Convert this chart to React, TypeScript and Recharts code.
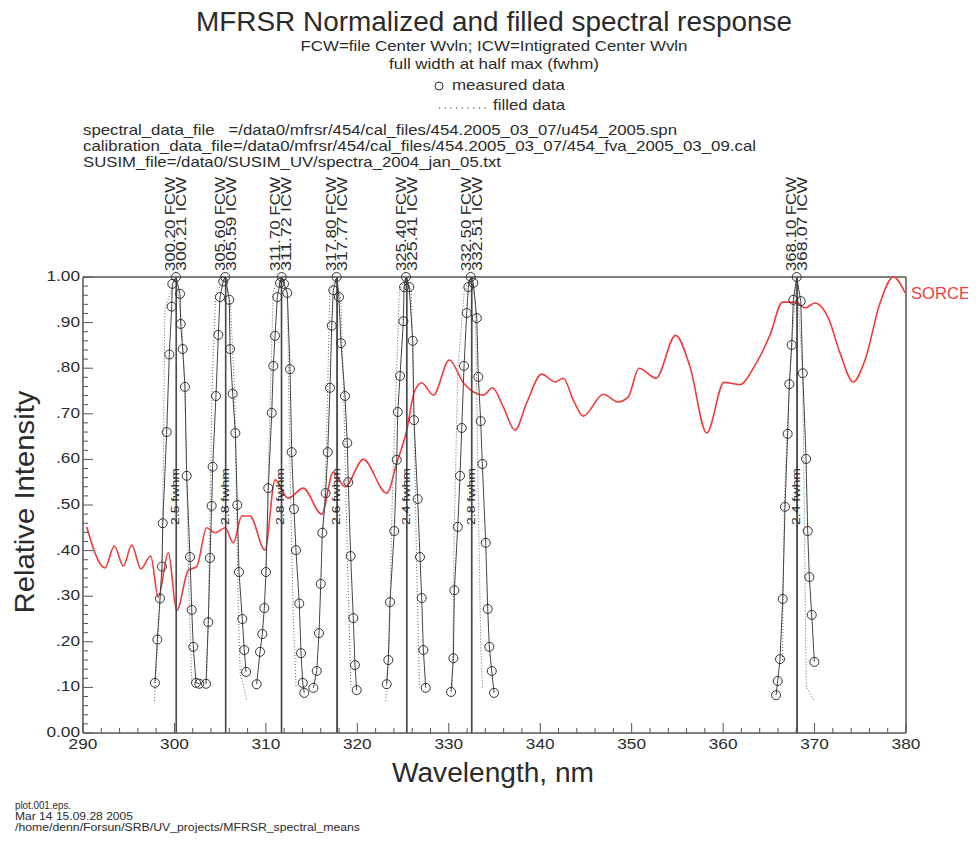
import React from "react";
import { ComposedChart, Line, XAxis, YAxis, ReferenceLine, Scatter } from "recharts";

// channel centres and widths
const channelFcw = [300.2, 305.6, 311.7, 317.8, 325.4, 332.5, 368.1];
const channelIcw = [300.21, 305.59, 311.72, 317.77, 325.41, 332.51, 368.07];
const channelFwhm = [2.5, 2.8, 2.8, 2.6, 2.4, 2.8, 2.4];

// measured data (circles), [wavelength nm, relative intensity]
const measured300: [number, number][] = [
  [297.87, 0.11], [298.13, 0.205], [298.42, 0.295], [298.64, 0.365], [298.72, 0.46], [299.15, 0.66],
  [299.44, 0.83], [299.7, 0.935], [299.77, 0.985], [300.17, 1.0], [300.61, 0.963], [300.68, 0.897],
  [300.9, 0.842], [301.15, 0.759], [301.34, 0.564], [301.7, 0.386], [301.89, 0.27], [302.06, 0.189],
  [302.36, 0.11], [302.72, 0.108],
];
const measured305: [number, number][] = [
  [303.45, 0.108], [303.7, 0.243], [303.89, 0.384], [304.07, 0.498], [304.18, 0.584], [304.54, 0.739],
  [304.8, 0.873], [304.98, 0.956], [305.34, 0.99], [305.55, 1.0], [306.0, 0.95], [306.08, 0.842],
  [306.37, 0.744], [306.66, 0.658], [306.87, 0.5], [307.06, 0.353], [307.42, 0.25], [307.64, 0.182],
  [307.83, 0.134],
];
const measured311: [number, number][] = [
  [308.99, 0.107], [309.36, 0.178], [309.61, 0.217], [309.83, 0.274], [310.01, 0.353], [310.26, 0.537],
  [310.64, 0.702], [310.81, 0.805], [311.0, 0.871], [311.25, 0.956], [311.54, 0.987], [311.73, 1.0],
  [311.98, 0.985], [312.34, 0.965], [312.64, 0.798], [312.82, 0.616], [313.07, 0.491], [313.29, 0.401],
  [313.65, 0.284], [313.84, 0.175], [314.03, 0.11], [314.2, 0.088],
];
const measured317: [number, number][] = [
  [315.19, 0.099], [315.56, 0.136], [315.81, 0.219], [316.0, 0.327], [316.17, 0.439], [316.54, 0.526],
  [316.76, 0.616], [317.01, 0.757], [317.2, 0.893], [317.37, 0.971], [317.74, 1.0], [317.99, 0.956],
  [318.21, 0.855], [318.65, 0.739], [318.9, 0.636], [319.01, 0.55], [319.27, 0.388], [319.56, 0.252],
  [319.74, 0.149], [319.93, 0.094],
];
const measured325: [number, number][] = [
  [323.21, 0.107], [323.39, 0.16], [323.57, 0.287], [324.04, 0.443], [324.31, 0.599], [324.42, 0.704],
  [324.67, 0.783], [325.03, 0.903], [325.11, 0.978], [325.32, 1.0], [325.68, 0.978], [326.06, 0.86],
  [326.2, 0.686], [326.6, 0.513], [326.85, 0.386], [327.04, 0.296], [327.22, 0.182], [327.48, 0.099],
];
const measured332: [number, number][] = [
  [330.25, 0.09], [330.5, 0.164], [330.61, 0.313], [330.98, 0.452], [331.23, 0.564], [331.42, 0.669],
  [331.67, 0.805], [331.96, 0.921], [332.14, 0.978], [332.4, 1.0], [332.68, 0.987], [333.06, 0.91],
  [333.23, 0.781], [333.49, 0.684], [333.67, 0.59], [334.04, 0.417], [334.26, 0.272], [334.43, 0.189],
  [334.7, 0.136], [334.95, 0.088],
];
const measured368: [number, number][] = [
  [365.79, 0.083], [365.97, 0.114], [366.22, 0.162], [366.52, 0.294], [366.77, 0.496], [367.06, 0.656],
  [367.24, 0.765], [367.5, 0.851], [367.68, 0.95], [368.05, 1.0], [368.49, 0.947], [368.71, 0.789],
  [369.07, 0.601], [369.25, 0.443], [369.43, 0.342], [369.69, 0.259], [369.98, 0.156],
];

// filled data (dotted)
const filled300: [number, number][] = [
  [297.8, 0.07], [298.64, 0.36], [298.72, 0.46], [298.95, 0.93], [300.17, 1.0], [300.8, 0.9],
  [301.15, 0.76], [301.6, 0.3], [301.9, 0.11],
];
const filled305: [number, number][] = [
  [303.5, 0.11], [303.7, 0.24], [304.1, 0.75], [304.5, 0.96], [305.5, 1.0], [306.1, 0.95],
  [306.6, 0.74], [307.0, 0.25], [307.2, 0.13], [307.95, 0.07],
];
const filled311: [number, number][] = [
  [310.0, 0.35], [310.3, 0.6], [310.8, 0.97], [311.73, 1.0], [312.35, 0.96], [312.6, 0.62],
  [313.0, 0.25], [313.3, 0.1],
];
const filled317: [number, number][] = [
  [316.3, 0.45], [316.6, 0.62], [317.0, 0.97], [317.74, 1.0], [318.2, 0.95], [318.5, 0.75],
  [318.9, 0.4], [319.3, 0.1],
];
const filled325: [number, number][] = [
  [323.1, 0.07], [323.5, 0.2], [323.8, 0.5], [324.6, 0.97], [325.32, 1.0], [325.9, 0.97],
  [326.2, 0.69], [326.5, 0.35], [326.8, 0.1],
];
const filled332: [number, number][] = [
  [330.4, 0.1], [330.6, 0.45], [331.0, 0.8], [331.7, 0.97], [332.4, 1.0], [332.9, 0.95],
  [333.2, 0.55], [333.5, 0.19], [333.7, 0.1],
];
const filled368: [number, number][] = [
  [366.5, 0.16], [366.55, 0.29], [366.7, 0.5], [367.0, 0.66], [367.5, 0.85], [368.05, 1.0],
  [368.7, 0.79], [368.9, 0.45], [369.0, 0.25], [369.1, 0.1], [370.0, 0.07],
];

// SORCE solar spectrum (red)
const sorceWl = [
  290.4, 292.41, 293.42, 294.41, 295.33, 296.34, 297.4, 298.23, 299.33, 300.25, 301.52, 302.43,
  303.53, 304.44, 305.53, 306.44, 307.36, 308.26, 309.9, 311.0, 312.45, 314.09, 316.1, 317.37,
  318.65, 320.65, 323.21, 324.31, 325.4, 326.2, 327.04, 328.31, 330.06, 331.59, 333.78, 334.78,
  335.96, 337.24, 338.52, 340.16, 341.62, 342.53, 343.62, 344.71, 346.9, 348.51, 349.63, 350.8,
  352.66, 354.8, 356.38, 358.21, 360.1, 361.85, 363.3, 365.13, 366.5, 367.97, 368.96, 370.05,
  371.51, 372.79, 374.24, 375.52, 377.16, 378.62, 379.9,
];
const sorceVal = [
  0.452, 0.362, 0.41, 0.366, 0.412, 0.36, 0.388, 0.298, 0.395, 0.268, 0.357, 0.365,
  0.45, 0.439, 0.45, 0.417, 0.476, 0.476, 0.401, 0.555, 0.515, 0.537, 0.48, 0.572,
  0.54, 0.6, 0.526, 0.592, 0.664, 0.746, 0.768, 0.741, 0.818, 0.768, 0.741, 0.757,
  0.715, 0.664, 0.724, 0.787, 0.77, 0.778, 0.73, 0.695, 0.743, 0.726, 0.737, 0.8,
  0.778, 0.872, 0.803, 0.658, 0.769, 0.764, 0.8, 0.873, 0.945, 0.945, 0.932, 0.943,
  0.91, 0.833, 0.77, 0.818, 0.943, 1.0, 0.965,
];

const xTicks = Array.from({ length: 46 }, (_, i) => 290 + 2 * i);
const yTicks = Array.from({ length: 51 }, (_, i) => i / 50);
const yTickLabels = ["0.00", ".10", ".20", ".30", ".40", ".50", ".60", ".70", ".80", ".90", "1.00"];

const FONT = "'Liberation Sans', Arial, Helvetica, sans-serif";
const INK = "#2b2b2b";
const GRAY = "#555";

const toPts = (a: [number, number][]) => a.map(([wl, v]) => ({ wl, v }));

const measured = [measured300, measured305, measured311, measured317, measured325, measured332, measured368];
const filled = [filled300, filled305, filled311, filled317, filled325, filled332, filled368];
const sorce = sorceWl.map((wl, i) => ({ wl, v: sorceVal[i] }));

const fcwLabelPts = channelFcw.map((wl, i) => ({ wl, v: 1, icw: channelIcw[i] }));
const fwhmLabelPts = channelFcw.map((wl, i) => ({ wl, v: 0.456, fwhm: channelFwhm[i] }));

const numWidth = (s: string, fs: number) =>
  s.split("").reduce((w, c) => w + (c === "." ? 0.278 : 0.556), 0) * fs * 1.15;

const XTick = (props: any) => {
  const { x, y, payload } = props;
  const v = payload.value;
  const major = v % 10 === 0;
  const label = String(v);
  return (
    <g>
      <line x1={x} x2={x} y1={y} y2={y - (major ? 10 : 5)} stroke={GRAY} strokeWidth={1} />
      {major && (
        <text x={x} y={y + 16} textAnchor="middle" fontSize={15} fontFamily={FONT} fill={INK}
          textLength={numWidth(label, 15)} lengthAdjust="spacingAndGlyphs">
          {label}
        </text>
      )}
    </g>
  );
};

const YTick = (props: any) => {
  const { x, y, payload } = props;
  const idx = Math.round(payload.value * 50);
  const major = idx % 5 === 0;
  const label = yTickLabels[idx / 5];
  return (
    <g>
      <line x1={x} x2={x + (major ? 10 : 5)} y1={y} y2={y} stroke={GRAY} strokeWidth={1} />
      {major && (
        <text x={x - 3} y={y + 4} textAnchor="end" fontSize={15} fontFamily={FONT} fill={INK}
          textLength={numWidth(label, 15)} lengthAdjust="spacingAndGlyphs">
          {label}
        </text>
      )}
    </g>
  );
};

const FcwLabel = (props: any) => {
  const { cx, cy, payload } = props;
  const fcw = payload.wl.toFixed(2);
  const icw = payload.icw.toFixed(2);
  const y0 = cy - 6;
  return (
    <g fontFamily={FONT} fontSize={14} fill={INK}>
      <text transform={`translate(${cx - 1},${y0}) rotate(-90)`} textLength={94} lengthAdjust="spacingAndGlyphs">
        {`${fcw} FCW`}
      </text>
      <text transform={`translate(${cx + 10},${y0}) rotate(-90)`} textLength={94} lengthAdjust="spacingAndGlyphs">
        {`${icw} ICW`}
      </text>
    </g>
  );
};

const FwhmLabel = (props: any) => {
  const { cx, cy, payload } = props;
  return (
    <text transform={`translate(${cx + 3},${cy}) rotate(-90)`} fontFamily={FONT} fontSize={10} fill={INK}
      textLength={57} lengthAdjust="spacingAndGlyphs">
      {`${payload.fwhm.toFixed(1)} fwhm`}
    </text>
  );
};

export default function App() {
  return (
    <div style={{ position: "relative", width: 960, height: 826, fontFamily: FONT }}>
      <ComposedChart width={960} height={826} margin={{ top: 269, right: 62, bottom: 71, left: 25 }}
        style={{ overflow: "visible" }}>
        <XAxis
          type="number"
          dataKey="wl"
          domain={[290, 380]}
          ticks={xTicks}
          interval={0}
          tickSize={0}
          tickMargin={0}
          tick={<XTick />}
          axisLine={{ stroke: GRAY, strokeWidth: 1.5 }}
        />
        <YAxis
          type="number"
          domain={[0, 1]}
          ticks={yTicks}
          interval={0}
          tickSize={0}
          tickMargin={0}
          width={50}
          tick={<YTick />}
          axisLine={{ stroke: GRAY, strokeWidth: 1.5 }}
        />
        <ReferenceLine y={1} stroke={GRAY} strokeWidth={1.5} />
        <ReferenceLine x={380} stroke={GRAY} strokeWidth={1.5} />

        <Line
          data={sorce}
          dataKey="v"
          type="monotone"
          stroke="#f03c3c"
          strokeWidth={1.6}
          dot={false}
          isAnimationActive={false}
        />

        {channelFcw.map((wl) => (
          <ReferenceLine key={`fcw${wl}`} x={wl} stroke="#4a4a4a" strokeWidth={1.5} />
        ))}
        {channelIcw.map((wl) => (
          <ReferenceLine key={`icw${wl}`} x={wl} stroke="#4a4a4a" strokeWidth={1.2} />
        ))}

        {filled.map((f, i) => (
          <Line
            key={`f${i}`}
            data={toPts(f)}
            dataKey="v"
            type="linear"
            stroke="#666"
            strokeWidth={1}
            strokeDasharray="1 2"
            dot={false}
            isAnimationActive={false}
          />
        ))}
        {measured.map((m, i) => (
          <Line
            key={`m${i}`}
            data={toPts(m)}
            dataKey="v"
            type="linear"
            stroke="#444"
            strokeWidth={1}
            dot={{ r: 4.5, stroke: "#333", strokeWidth: 1, fill: "none" }}
            isAnimationActive={false}
          />
        ))}

        <Scatter data={fcwLabelPts} dataKey="v" shape={<FcwLabel />} isAnimationActive={false} />
        <Scatter data={fwhmLabelPts} dataKey="v" shape={<FwhmLabel />} isAnimationActive={false} />
      </ComposedChart>

      <svg width={968} height={826} style={{ position: "absolute", left: 0, top: 0, pointerEvents: "none" }}
        fontFamily={FONT} fill={INK}>
        <text x={486} y={23} textAnchor="middle" fontSize={27} textLength={596} lengthAdjust="spacingAndGlyphs">
          MFRSR Normalized and filled spectral response
        </text>
        <text x={486} y={43} textAnchor="middle" fontSize={15} textLength={387} lengthAdjust="spacingAndGlyphs">
          FCW=file Center Wvln; ICW=Intigrated Center Wvln
        </text>
        <text x={486} y={61} textAnchor="middle" fontSize={15} textLength={210} lengthAdjust="spacingAndGlyphs">
          full width at half max (fwhm)
        </text>
        <circle cx={431} cy={78} r={4} fill="none" stroke={INK} strokeWidth={1} />
        <text x={444} y={82} fontSize={15} textLength={113} lengthAdjust="spacingAndGlyphs">measured data</text>
        <line x1={431} x2={481} y1={100} y2={100} stroke={INK} strokeWidth={1.2} strokeDasharray="1.2 4.5" />
        <text x={485} y={102} fontSize={15} textLength={72} lengthAdjust="spacingAndGlyphs">filled data</text>

        <text x={75} y={127} fontSize={15} textLength={594} lengthAdjust="spacingAndGlyphs" style={{ whiteSpace: "pre" }}>
          {"spectral_data_file   =/data0/mfrsr/454/cal_files/454.2005_03_07/u454_2005.spn"}
        </text>
        <text x={75} y={143} fontSize={15} textLength={673} lengthAdjust="spacingAndGlyphs">
          calibration_data_file=/data0/mfrsr/454/cal_files/454.2005_03_07/454_fva_2005_03_09.cal
        </text>
        <text x={75} y={159} fontSize={15} textLength={418} lengthAdjust="spacingAndGlyphs">
          SUSIM_file=/data0/SUSIM_UV/spectra_2004_jan_05.txt
        </text>

        <text transform="translate(26,494) rotate(-90)" textAnchor="middle" fontSize={28} textLength={223}
          lengthAdjust="spacingAndGlyphs">
          Relative Intensity
        </text>
        <text x={485} y={774} textAnchor="middle" fontSize={27} textLength={202} lengthAdjust="spacingAndGlyphs">
          Wavelength, nm
        </text>
        <text x={903} y={291} fontSize={17} fill="#f03c3c" textLength={59} lengthAdjust="spacingAndGlyphs">
          SORCE
        </text>

        <g fontSize={10}>
          <text x={7} y={801} textLength={56} lengthAdjust="spacingAndGlyphs">plot.001.eps.</text>
          <text x={7} y={812} textLength={118} lengthAdjust="spacingAndGlyphs">Mar 14 15.09.28 2005</text>
          <text x={7} y={823} textLength={345} lengthAdjust="spacingAndGlyphs">
            /home/denn/Forsun/SRB/UV_projects/MFRSR_spectral_means
          </text>
        </g>
      </svg>
    </div>
  );
}
